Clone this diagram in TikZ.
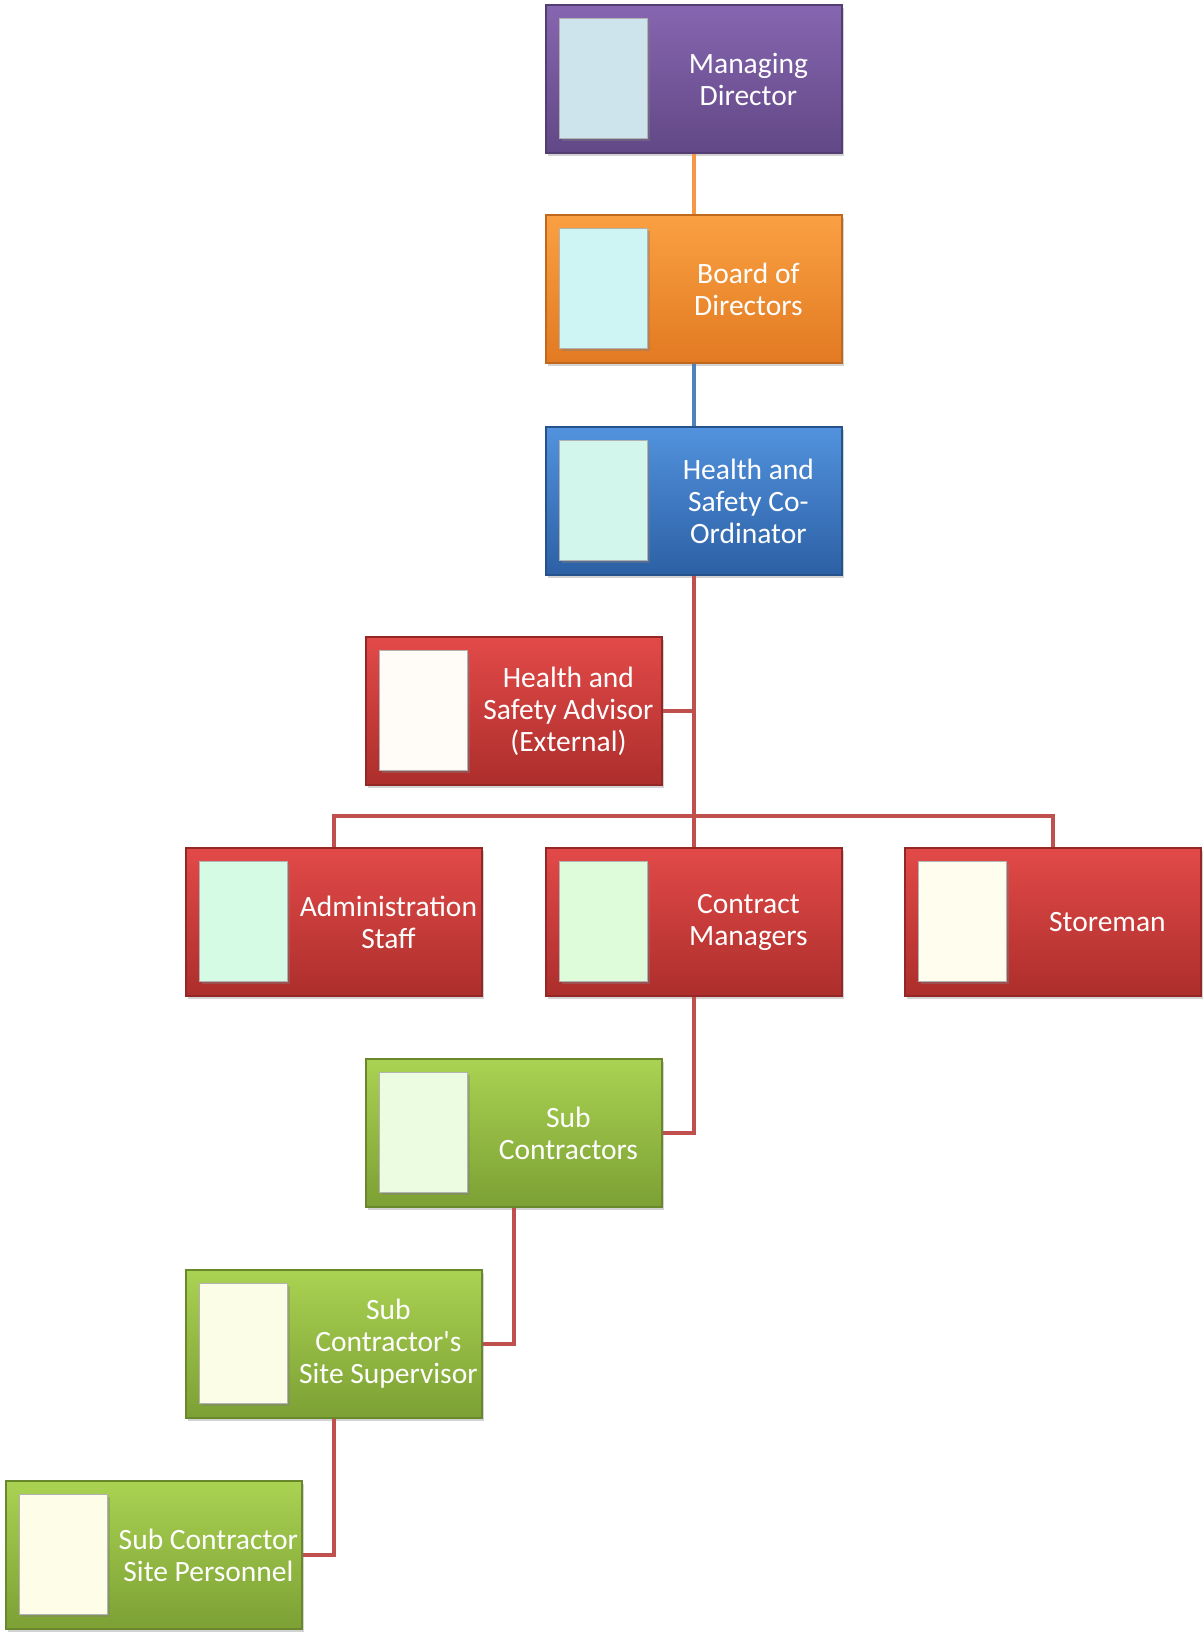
\documentclass[tikz,border=0pt]{standalone}
\usepackage{fontspec}
\setmainfont{Carlito}
\usepackage{xcolor}
\usetikzlibrary{shadows}

% box colours (top and bottom of the shading)
\definecolor{purpleTop}{RGB}{134,102,176}
\definecolor{purpleBot}{RGB}{98,72,134}
\definecolor{orangeTop}{RGB}{250,160,66}
\definecolor{orangeBot}{RGB}{226,122,34}
\definecolor{blueTop}{RGB}{82,146,222}
\definecolor{blueBot}{RGB}{44,96,164}
\definecolor{redTop}{RGB}{226,74,72}
\definecolor{redBot}{RGB}{172,46,44}
\definecolor{greenTop}{RGB}{170,210,82}
\definecolor{greenBot}{RGB}{124,160,52}
% connector colours
\definecolor{lineOrange}{RGB}{247,150,70}
\definecolor{lineBlue}{RGB}{79,129,189}
\definecolor{lineRed}{RGB}{192,80,77}
% tile colours
\definecolor{tileMd}{RGB}{205,228,236}
\definecolor{tileBod}{RGB}{206,244,244}
\definecolor{tileHsc}{RGB}{210,246,236}
\definecolor{tileHsa}{RGB}{255,252,248}
\definecolor{tileAdm}{RGB}{214,251,228}
\definecolor{tileCm}{RGB}{222,251,218}
\definecolor{tileSt}{RGB}{254,253,238}
\definecolor{tileSc}{RGB}{236,252,224}
\definecolor{tileSup}{RGB}{251,253,230}
\definecolor{tilePer}{RGB}{254,254,232}

\tikzset{
  unitbox/.style={rectangle, minimum width=296pt, minimum height=148pt,
    inner sep=0pt, line width=1.2pt,
    drop shadow={shadow xshift=2pt, shadow yshift=-3pt, opacity=0.35}},
  tile/.style={rectangle, anchor=north west, minimum width=88pt,
    minimum height=120pt, inner sep=0pt, draw=gray!60, line width=1pt,
    drop shadow={shadow xshift=2pt, shadow yshift=-2pt, opacity=0.4}},
  unittext/.style={text=white, align=center,
    font=\fontsize{29.5}{32}\selectfont},
  link/.style={line width=4pt}
}

% name, centre, colour, tile colour, text
\newcommand{\orgbox}[5]{%
  \node[unitbox, top color=#3Top, bottom color=#3Bot, draw=#3Bot!85!black] (#1) at (#2) {};
  \node[tile, fill=#4] (#1-tile) at ([xshift=14pt,yshift=-14pt]#1.north west) {};
  \node[unittext] (#1-text) at ([xshift=203pt]#1.west) {#5};
}

\begin{document}
\begin{tikzpicture}[x=1pt,y=-1pt]
\useasboundingbox (0,0) rectangle (1203,1632);
% Boxes
\orgbox{md}{694,79}{purple}{tileMd}{Managing\\Director}
\orgbox{bod}{694,289}{orange}{tileBod}{Board of\\Directors}
\orgbox{hsc}{694,501}{blue}{tileHsc}{Health and\\Safety Co-\\Ordinator}
\orgbox{hsa}{514,711}{red}{tileHsa}{Health and\\Safety Advisor\\(External)}
\orgbox{adm}{334,922}{red}{tileAdm}{Administration\\Staff}
\orgbox{cm}{694,922}{red}{tileCm}{Contract\\Managers}
\orgbox{st}{1053,922}{red}{tileSt}{Storeman}
\orgbox{sc}{514,1133}{green}{tileSc}{Sub\\Contractors}
\orgbox{sup}{334,1344}{green}{tileSup}{Sub\\Contractor\textquotesingle s\\Site Supervisor}
\orgbox{per}{154,1555}{green}{tilePer}{Sub Contractor\\Site Personnel}
% Connectors
\coordinate (bar) at (694,816);
\draw[link, lineOrange] (md.south) -- (bod.north);
\draw[link, lineBlue] (bod.south) -- (hsc.north);
\draw[link, lineRed] (hsc.south) -- (cm.north);
\draw[link, lineRed] (hsa.east) -- (hsa.east -| hsc.south);
\draw[link, lineRed] (adm.north) |- (bar) -| (st.north);
\draw[link, lineRed] (cm.south) |- (sc.east);
\draw[link, lineRed] (sc.south) |- (sup.east);
\draw[link, lineRed] (sup.south) |- (per.east);
\end{tikzpicture}
\end{document}
